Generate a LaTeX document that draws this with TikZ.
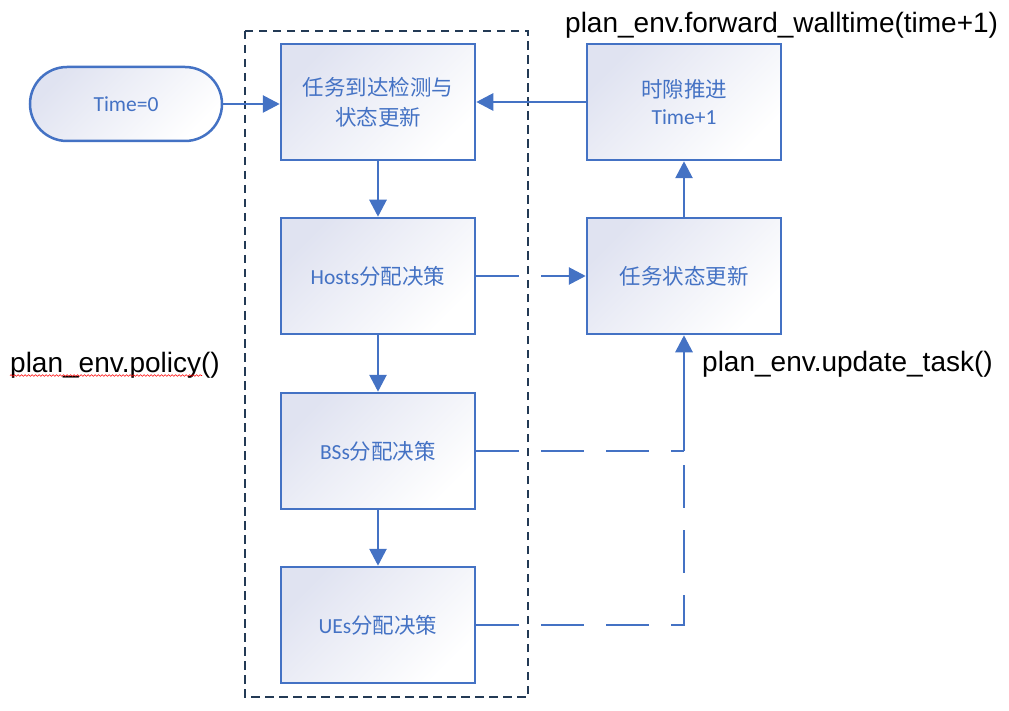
\documentclass[tikz,border=0pt]{standalone}
\usepackage{fontspec}
\setmainfont{Liberation Sans}
\newfontfamily\cjk{Noto Sans CJK SC}
\newfontfamily\lat{Carlito}
\usetikzlibrary{arrows.meta,shapes.misc,decorations.pathmorphing}
\definecolor{boxblue}{RGB}{68,114,196}
\definecolor{lav}{RGB}{224,227,241}
\definecolor{navy}{RGB}{35,58,85}
\tikzset{
  box/.style={draw=boxblue, line width=2.5pt, minimum width=194pt, minimum height=116pt,
    top color=lav, bottom color=white, shading angle=45, text=boxblue, align=center,
    inner sep=0pt, font=\cjk\fontsize{21.5}{30}\selectfont},
  term/.style={box, rounded rectangle, minimum width=192pt, minimum height=74pt},
  flow/.style={draw=boxblue, line width=2.8pt, -{Triangle[length=17pt,width=17pt]}},
  flowdash/.style={draw=boxblue, line width=2.8pt, dash pattern=on 43pt off 22pt},
  grp/.style={draw=navy, line width=2.4pt, dash pattern=on 8.5pt off 5.5pt},
  lbl/.style={font=\fontsize{28}{32}\selectfont, text=black, inner sep=0pt},
}
\begin{document}
\begin{tikzpicture}[x=1pt,y=-1pt]
\useasboundingbox (0,0) rectangle (1009,711);
% group frame
\draw[grp] (245,31) rectangle (528,697);
% nodes
\node[term] (start) at (126,104) {{\lat Time=0}};
\node[box] (b1) at (378,102) {任务到达检测与\\状态更新};
\node[box] (b2) at (378,276) {{\lat Hosts}分配决策};
\node[box] (b3) at (378,451) {{\lat BSs}分配决策};
\node[box] (b4) at (378,625) {{\lat UEs}分配决策};
\node[box, font=\cjk\fontsize{21.5}{27}\selectfont] (t1) at (684,102) {时隙推进\\{\lat Time+1}};
\node[box] (t2) at (684,276) {任务状态更新};
\coordinate (c) at (t2.south |- b3.east);
% connectors
\draw[flow] (start.east) -- (start.east -| b1.west);
\draw[flow] (t1.west) -- (b1.east);
\draw[flow] (b1.south) -- (b2.north);
\draw[flow] (b2.south) -- (b3.north);
\draw[flow] (b3.south) -- (b4.north);
\draw[flow] (t2.north) -- (t1.south);
\draw[flow, dash pattern=on 43pt off 22pt] (b2.east) -- (t2.west);
\draw[flowdash] (b3.east) -- (c);
\draw[flowdash] (b4.east) -| (c);
\draw[flow] (c) -- (t2.south);
% labels
\node[lbl, anchor=base west] (fw) at (565,33) {plan\_env.forward\_walltime(time+1)};
\node[lbl, anchor=base west] (pol) at (10,372) {plan\_env.policy()};
\node[lbl, anchor=base west] (upd) at (702,371) {plan\_env.update\_task()};
\draw[red, line width=0.6pt, decorate, decoration={snake, amplitude=0.8pt, segment length=3.5pt}] (10,375.5) -- (202,375.5);
\end{tikzpicture}
\end{document}
